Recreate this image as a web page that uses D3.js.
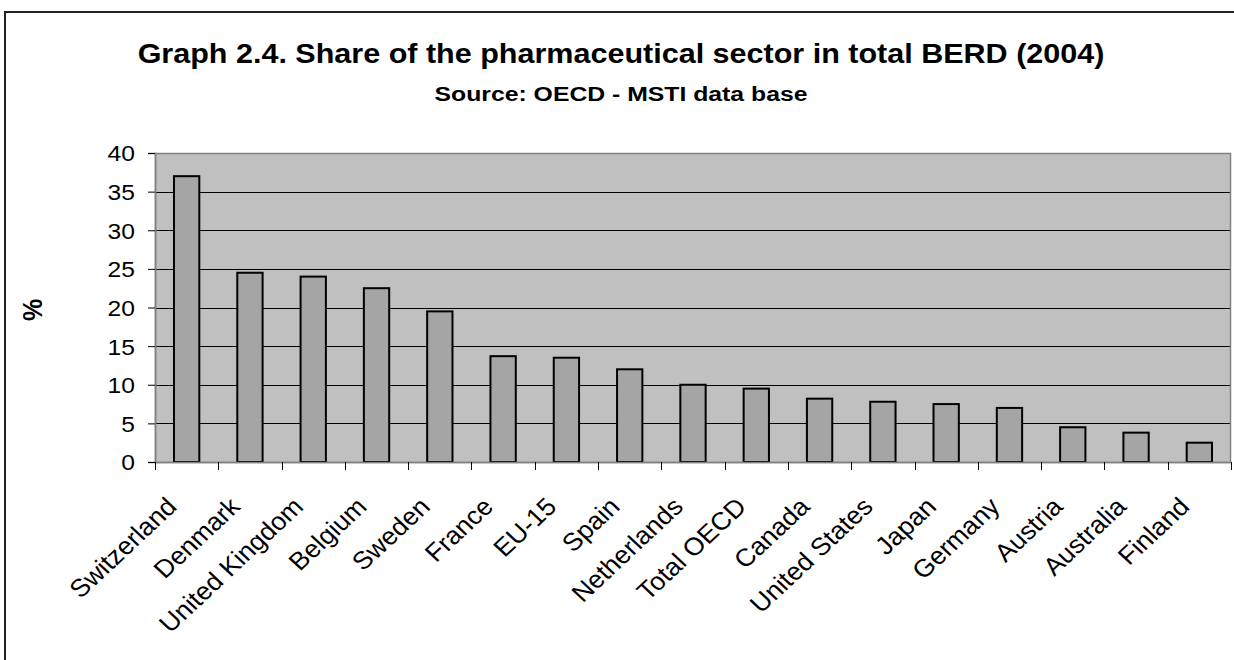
<!DOCTYPE html>
<html>
<head>
<meta charset="utf-8">
<script src="https://cdn.jsdelivr.net/npm/d3@7"></script>
<style>
  html, body { margin: 0; padding: 0; background: #fff; }
  svg { display: block; font-family: "Liberation Sans", Arial, sans-serif; }
</style>
</head>
<body>
<svg id="chart" width="1234" height="660"></svg>
<script>
// Share of the pharmaceutical sector in total BERD, 2004 (%)
const countries = ["Switzerland", "Denmark", "United Kingdom", "Belgium", "Sweden", "France",
  "EU-15", "Spain", "Netherlands", "Total OECD", "Canada", "United States", "Japan",
  "Germany", "Austria", "Australia", "Finland"];
const shares = [37, 24.5, 24, 22.5, 19.5, 13.7, 13.5, 12, 10, 9.5, 8.2, 7.8, 7.5, 7, 4.5, 3.8, 2.5];
const yTicks = [0, 5, 10, 15, 20, 25, 30, 35, 40];

const titleText = "Graph 2.4. Share of the pharmaceutical sector in total BERD (2004)";
const subtitleText = "Source: OECD - MSTI data base";
const yAxisLabel = "%";

// Text in this chart is drawn slightly wide
const SX = 1.11;

const svg = d3.select("#chart");
const plot = { left: 155, right: 1231, top: 153, bottom: 462 };

// Outer chart frame (runs off the right and bottom edges)
svg.append("rect")
  .attr("x", 5).attr("y", 12)
  .attr("width", 1260).attr("height", 700)
  .attr("fill", "none").attr("stroke", "#222").attr("stroke-width", 2);

// Titles
svg.append("text")
  .attr("transform", `translate(621,63) scale(${SX},1)`)
  .attr("text-anchor", "middle")
  .attr("font-size", 27.5).attr("font-weight", "bold")
  .text(titleText);
svg.append("text")
  .attr("transform", `translate(621,101) scale(1.18,1)`)
  .attr("text-anchor", "middle")
  .attr("font-size", 21).attr("font-weight", "bold")
  .text(subtitleText);

const x = d3.scaleBand().domain(countries).range([plot.left, plot.right]).paddingInner(0.6).paddingOuter(0.3);
const y = d3.scaleLinear().domain([0, 40]).range([plot.bottom, plot.top]);

// Plot background
svg.append("rect")
  .attr("x", plot.left).attr("y", plot.top)
  .attr("width", plot.right - plot.left).attr("height", plot.bottom - plot.top)
  .attr("fill", "#c0c0c0");

// Horizontal gridlines
svg.append("g")
  .selectAll("line")
  .data(yTicks.filter(d => d > 0 && d < 40))
  .join("line")
  .attr("x1", plot.left).attr("x2", plot.right)
  .attr("y1", d => Math.round(y(d)) + 0.5).attr("y2", d => Math.round(y(d)) + 0.5)
  .attr("stroke", "#000").attr("stroke-width", 1);

// Plot border
svg.append("rect")
  .attr("x", plot.left + 0.5).attr("y", plot.top + 0.5)
  .attr("width", plot.right - plot.left - 1).attr("height", plot.bottom - plot.top)
  .attr("fill", "none").attr("stroke", "#808080").attr("stroke-width", 1.5);

// Bars
svg.append("g")
  .selectAll("rect")
  .data(countries)
  .join("rect")
  .attr("x", d => x(d))
  .attr("width", x.bandwidth())
  .attr("y", (d, i) => y(shares[i]))
  .attr("height", (d, i) => y(0) - y(shares[i]))
  .attr("fill", "#a5a5a5")
  .attr("stroke", "#000").attr("stroke-width", 2);

// Y axis
const yAxis = d3.axisLeft(y).tickValues(yTicks).tickSize(7);
const gy = svg.append("g").attr("transform", `translate(${plot.left},0)`).call(yAxis);
gy.select(".domain").attr("stroke", "#808080").attr("stroke-width", 1.5);
gy.selectAll(".tick line").attr("stroke", "#000");
gy.selectAll(".tick text")
  .attr("x", null)
  .attr("transform", `translate(-20,0) scale(1.12,1)`)
  .attr("dy", "0.36em")
  .attr("font-size", 22).attr("fill", "#000")
  .attr("font-family", "Liberation Sans, Arial, sans-serif");

// X axis: ticks at category boundaries
const boundaries = d3.range(countries.length + 1).map(i => plot.left + i * x.step());
svg.append("line")
  .attr("x1", plot.left).attr("x2", plot.right)
  .attr("y1", plot.bottom + 0.5).attr("y2", plot.bottom + 0.5)
  .attr("stroke", "#808080").attr("stroke-width", 1.5);
svg.append("g")
  .selectAll("line")
  .data(boundaries)
  .join("line")
  .attr("x1", d => Math.round(d) + 0.5).attr("x2", d => Math.round(d) + 0.5)
  .attr("y1", plot.bottom).attr("y2", plot.bottom + 8)
  .attr("stroke", "#000").attr("stroke-width", 1);

// Category labels, rotated
svg.append("g")
  .selectAll("text")
  .data(countries)
  .join("text")
  .attr("transform", d => `translate(${x(d) + x.bandwidth() / 2 - 15},502) scale(1.07,1) rotate(-45)`)
  .attr("text-anchor", "end")
  .attr("dy", "0.35em")
  .attr("font-size", 25)
  .text(d => d);

// Y axis title
svg.append("text")
  .attr("transform", `translate(42,310) scale(${SX},1) rotate(-90)`)
  .attr("text-anchor", "middle")
  .attr("font-size", 25).attr("font-weight", "bold")
  .text(yAxisLabel);
</script>
</body>
</html>
